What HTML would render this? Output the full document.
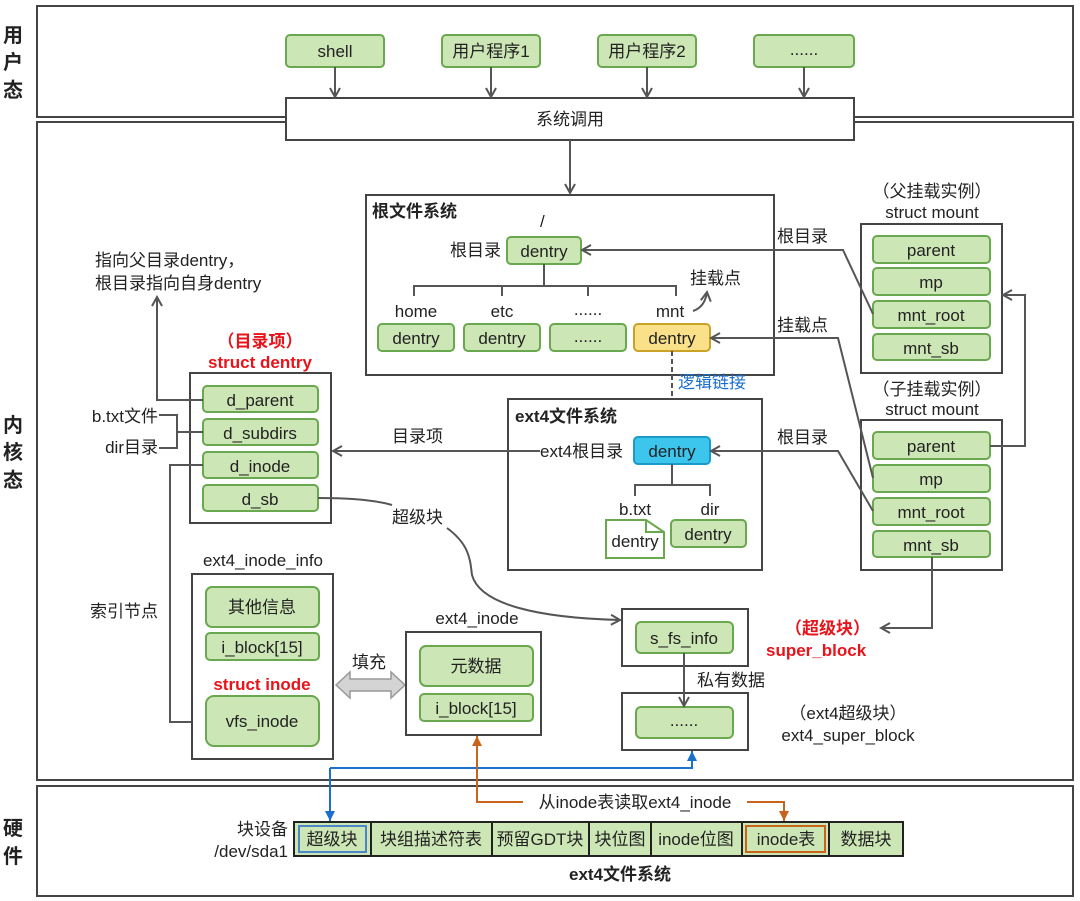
<!DOCTYPE html>
<html><head><meta charset="utf-8"><style>
html,body{margin:0;padding:0;background:#fff;}
svg{display:block;}
text{font-family:"Liberation Sans","Noto Sans CJK SC",sans-serif;font-size:17px;fill:#222;}
.b{font-weight:bold;}
.r{fill:#e8141b;font-weight:bold;}
.g{fill:#cde6b6;stroke:#6aa84f;stroke-width:2;}
.bx{fill:#fff;stroke:#444;stroke-width:2;}
.ln{fill:none;stroke:#555;stroke-width:2;}
</style></head><body>
<svg width="1080" height="901" viewBox="0 0 1080 901" xmlns="http://www.w3.org/2000/svg">
<defs>
<marker id="a" markerWidth="12" markerHeight="12" refX="10" refY="6" orient="auto" markerUnits="userSpaceOnUse"><path d="M1,1 L10,6 L1,11" fill="none" stroke="#555" stroke-width="2"/></marker>
<marker id="ab" markerWidth="12" markerHeight="12" refX="10" refY="6" orient="auto" markerUnits="userSpaceOnUse"><path d="M0,1 L10,6 L0,11 z" fill="#1a6fcf"/></marker>
<marker id="ao" markerWidth="12" markerHeight="12" refX="10" refY="6" orient="auto" markerUnits="userSpaceOnUse"><path d="M0,1 L10,6 L0,11 z" fill="#c8651b"/></marker>
</defs>
<!-- frames -->
<rect x="37" y="6" width="1036" height="111" class="bx" stroke-width="2.5"/>
<rect x="37" y="122" width="1036" height="658" class="bx" stroke-width="2.5"/>
<rect x="37" y="786" width="1036" height="110" class="bx" stroke-width="2.5"/>
<g class="b" font-size="20" text-anchor="middle">
<text x="13" y="42" class="b" style="font-size:20px">用</text><text x="13" y="69" class="b" style="font-size:20px">户</text><text x="13" y="97" class="b" style="font-size:20px">态</text>
<text x="13" y="432" class="b" style="font-size:20px">内</text><text x="13" y="459" class="b" style="font-size:20px">核</text><text x="13" y="487" class="b" style="font-size:20px">态</text>
<text x="13" y="835" class="b" style="font-size:20px">硬</text><text x="13" y="863" class="b" style="font-size:20px">件</text>
</g>
<!-- user programs -->
<g text-anchor="middle">
<rect x="286" y="35" width="98" height="32" rx="4" class="g"/><text x="335" y="57">shell</text>
<rect x="442" y="35" width="98" height="32" rx="4" class="g"/><text x="491" y="57">用户程序1</text>
<rect x="598" y="35" width="98" height="32" rx="4" class="g"/><text x="647" y="57">用户程序2</text>
<rect x="754" y="35" width="100" height="32" rx="4" class="g"/><text x="804" y="55">......</text>
<rect x="286" y="98" width="568" height="42" class="bx"/><text x="570" y="125">系统调用</text>
</g>
<g class="ln" marker-end="url(#a)">
<line x1="335" y1="67" x2="335" y2="97"/><line x1="491" y1="67" x2="491" y2="97"/>
<line x1="647" y1="67" x2="647" y2="97"/><line x1="804" y1="67" x2="804" y2="97"/>
<line x1="570" y1="140" x2="570" y2="193"/>
</g>
<!-- root fs -->
<rect x="366" y="195" width="408" height="180" class="bx"/>
<text x="372" y="217" class="b">根文件系统</text>
<text x="540" y="227">/</text>
<text x="450" y="256">根目录</text>
<rect x="507" y="237" width="74" height="27" rx="4" class="g"/><text x="544" y="257" text-anchor="middle">dentry</text>
<path class="ln" d="M544,264 V286 M414,296 V286 H676 V296 M502,286 V296 M588,286 V296"/>
<g text-anchor="middle">
<text x="416" y="317">home</text><text x="502" y="317">etc</text><text x="588" y="315">......</text><text x="670" y="317">mnt</text>
<rect x="378" y="324" width="76" height="27" rx="4" class="g"/><text x="416" y="344">dentry</text>
<rect x="464" y="324" width="76" height="27" rx="4" class="g"/><text x="502" y="344">dentry</text>
<rect x="550" y="324" width="76" height="27" rx="4" class="g"/><text x="588" y="342">......</text>
<rect x="634" y="324" width="76" height="27" rx="4" fill="#fbe08a" stroke="#c9a227" stroke-width="2"/><text x="672" y="344">dentry</text>
</g>
<text x="690" y="284">挂载点</text>
<path class="ln" d="M693,311 Q705,307 707,292" marker-end="url(#a)"/>
<line x1="672" y1="351" x2="672" y2="437" stroke="#555" stroke-width="2" stroke-dasharray="5,3"/>
<text x="678" y="388" style="fill:#1a6fcf">逻辑链接</text>
<!-- ext4 fs -->
<rect x="508" y="399" width="254" height="171" class="bx"/>
<text x="515" y="422" class="b">ext4文件系统</text>
<text x="540" y="457">ext4根目录</text>
<rect x="634" y="437" width="76" height="27" rx="4" fill="#3cc6ee" stroke="#1a9cc7" stroke-width="2"/><text x="672" y="457" text-anchor="middle">dentry</text>
<path class="ln" d="M672,464 V485 M635,496 V485 H710 V496"/>
<text x="635" y="515" text-anchor="middle">b.txt</text><text x="710" y="515" text-anchor="middle">dir</text>
<path d="M606,520 H646 L664,532 V558 H606 Z" fill="#fff" stroke="#6aa84f" stroke-width="2"/>
<path d="M646,520 V532 H664" fill="none" stroke="#6aa84f" stroke-width="2"/>
<text x="635" y="547" text-anchor="middle">dentry</text>
<rect x="671" y="520" width="75" height="27" rx="4" class="g"/><text x="708" y="540" text-anchor="middle">dentry</text>
<line class="ln" x1="540" y1="451" x2="333" y2="451" marker-end="url(#a)"/>
<text x="392" y="442">目录项</text>
<!-- struct dentry -->
<text x="260" y="347" class="r" text-anchor="middle">（目录项）</text>
<text x="260" y="368" class="r" text-anchor="middle">struct dentry</text>
<rect x="190" y="373" width="141" height="150" class="bx"/>
<g text-anchor="middle">
<rect x="203" y="386" width="115" height="26" rx="4" class="g"/><text x="260" y="406">d_parent</text>
<rect x="203" y="419" width="115" height="26" rx="4" class="g"/><text x="260" y="439">d_subdirs</text>
<rect x="203" y="452" width="115" height="26" rx="4" class="g"/><text x="260" y="472">d_inode</text>
<rect x="203" y="485" width="115" height="26" rx="4" class="g"/><text x="260" y="505">d_sb</text>
</g>
<path class="ln" d="M203,400 H157 V297" marker-end="url(#a)"/>
<text x="95" y="266">指向父目录dentry，</text>
<text x="95" y="289">根目录指向自身dentry</text>
<text x="158" y="422" text-anchor="end">b.txt文件</text>
<text x="158" y="453" text-anchor="end">dir目录</text>
<path class="ln" d="M159,415 H177 V448 H159 M177,432 H203"/>
<path class="ln" d="M203,465 H170 V722 H205" marker-end="url(#a)"/>
<text x="90" y="617">索引节点</text>
<!-- d_sb curve -->
<path class="ln" d="M318,498 C350,498 375,500 392,505"/>
<path class="ln" d="M447,528 C470,545 470,560 472,575 C480,605 540,618 620,620" marker-end="url(#a)"/>
<text x="392" y="523">超级块</text>
<!-- ext4_inode_info -->
<text x="263" y="566" text-anchor="middle">ext4_inode_info</text>
<rect x="192" y="574" width="141" height="185" class="bx"/>
<g text-anchor="middle">
<rect x="206" y="587" width="113" height="40" rx="6" class="g"/><text x="262" y="613">其他信息</text>
<rect x="206" y="633" width="113" height="27" rx="4" class="g"/><text x="262" y="653">i_block[15]</text>
<text x="262" y="690" class="r">struct inode</text>
<rect x="206" y="696" width="113" height="50" rx="8" class="g"/><text x="262" y="727">vfs_inode</text>
</g>
<text x="352" y="668">填充</text>
<path d="M336,685 L350,672 V679 H391 V672 L405,685 L391,698 V691 H350 V698 Z" fill="#d4d4d4" stroke="#999" stroke-width="1.5"/>
<!-- ext4_inode -->
<text x="477" y="624" text-anchor="middle">ext4_inode</text>
<rect x="406" y="632" width="135" height="103" class="bx"/>
<g text-anchor="middle">
<rect x="420" y="646" width="113" height="40" rx="6" class="g"/><text x="476" y="672">元数据</text>
<rect x="420" y="694" width="113" height="27" rx="4" class="g"/><text x="476" y="714">i_block[15]</text>
</g>
<!-- super block -->
<rect x="622" y="609" width="126" height="57" class="bx"/>
<rect x="636" y="622" width="97" height="31" rx="5" class="g"/><text x="684" y="644" text-anchor="middle">s_fs_info</text>
<rect x="622" y="693" width="126" height="57" class="bx"/>
<rect x="636" y="707" width="97" height="31" rx="5" class="g"/><text x="684" y="726" text-anchor="middle">......</text>
<line class="ln" x1="684" y1="653" x2="684" y2="706" marker-end="url(#a)"/>
<text x="697" y="686">私有数据</text>
<text x="785" y="634" class="r">（超级块）</text>
<text x="766" y="656" class="r">super_block</text>
<text x="848" y="719" text-anchor="middle">（ext4超级块）</text>
<text x="848" y="741" text-anchor="middle">ext4_super_block</text>
<!-- mounts -->
<g text-anchor="middle">
<text x="932" y="197">（父挂载实例）</text><text x="932" y="218">struct mount</text>
<text x="932" y="395">（子挂载实例）</text><text x="932" y="415">struct mount</text>
</g>
<rect x="861" y="224" width="141" height="149" class="bx"/>
<rect x="861" y="420" width="141" height="150" class="bx"/>
<g text-anchor="middle">
<rect x="873" y="236" width="117" height="27" rx="4" class="g"/><text x="931" y="256">parent</text>
<rect x="873" y="268" width="117" height="27" rx="4" class="g"/><text x="931" y="288">mp</text>
<rect x="873" y="301" width="117" height="27" rx="4" class="g"/><text x="931" y="321">mnt_root</text>
<rect x="873" y="334" width="117" height="26" rx="4" class="g"/><text x="931" y="354">mnt_sb</text>
<rect x="873" y="432" width="117" height="27" rx="4" class="g"/><text x="931" y="452">parent</text>
<rect x="873" y="465" width="117" height="27" rx="4" class="g"/><text x="931" y="485">mp</text>
<rect x="873" y="498" width="117" height="27" rx="4" class="g"/><text x="931" y="518">mnt_root</text>
<rect x="873" y="531" width="117" height="26" rx="4" class="g"/><text x="931" y="551">mnt_sb</text>
</g>
<path class="ln" d="M873,314 L843,250 H582" marker-end="url(#a)"/>
<path class="ln" d="M873,478 L838,338 H711" marker-end="url(#a)"/>
<path class="ln" d="M873,511 L838,451 H711" marker-end="url(#a)"/>
<text x="777" y="242">根目录</text>
<text x="777" y="331">挂载点</text>
<text x="777" y="443">根目录</text>
<path class="ln" d="M990,446 H1025 V295 H1003" marker-end="url(#a)"/>
<path class="ln" d="M932,557 V628 H881" marker-end="url(#a)"/>
<!-- hardware -->
<text x="288" y="835" text-anchor="end">块设备</text>
<text x="288" y="857" text-anchor="end">/dev/sda1</text>
<rect x="294" y="822" width="609" height="34" fill="#cde6b6" stroke="#222" stroke-width="2"/>
<path d="M371,822 V856 M492,822 V856 M589,822 V856 M651,822 V856 M742,822 V856 M829,822 V856" stroke="#222" stroke-width="2"/>
<rect x="299" y="826" width="67" height="26" fill="none" stroke="#4a86c8" stroke-width="2"/>
<rect x="746" y="826" width="79" height="26" fill="none" stroke="#c8651b" stroke-width="2"/>
<g text-anchor="middle">
<text x="332" y="845">超级块</text><text x="431" y="845">块组描述符表</text><text x="540" y="845">预留GDT块</text>
<text x="620" y="845">块位图</text><text x="696" y="845">inode位图</text><text x="786" y="845">inode表</text><text x="866" y="845">数据块</text>
<text x="620" y="880" class="b">ext4文件系统</text>
</g>
<path d="M330,768 V821" fill="none" stroke="#1a6fcf" stroke-width="2" marker-end="url(#ab)"/>
<path d="M330,768 H692 V751" fill="none" stroke="#1a6fcf" stroke-width="2" marker-end="url(#ab)"/>
<path d="M523,802 H477 V736" fill="none" stroke="#c8651b" stroke-width="2" marker-end="url(#ao)"/>
<path d="M747,802 H784 V821" fill="none" stroke="#c8651b" stroke-width="2" marker-end="url(#ao)"/>
<text x="635" y="808" text-anchor="middle">从inode表读取ext4_inode</text>
</svg>
</body></html>
